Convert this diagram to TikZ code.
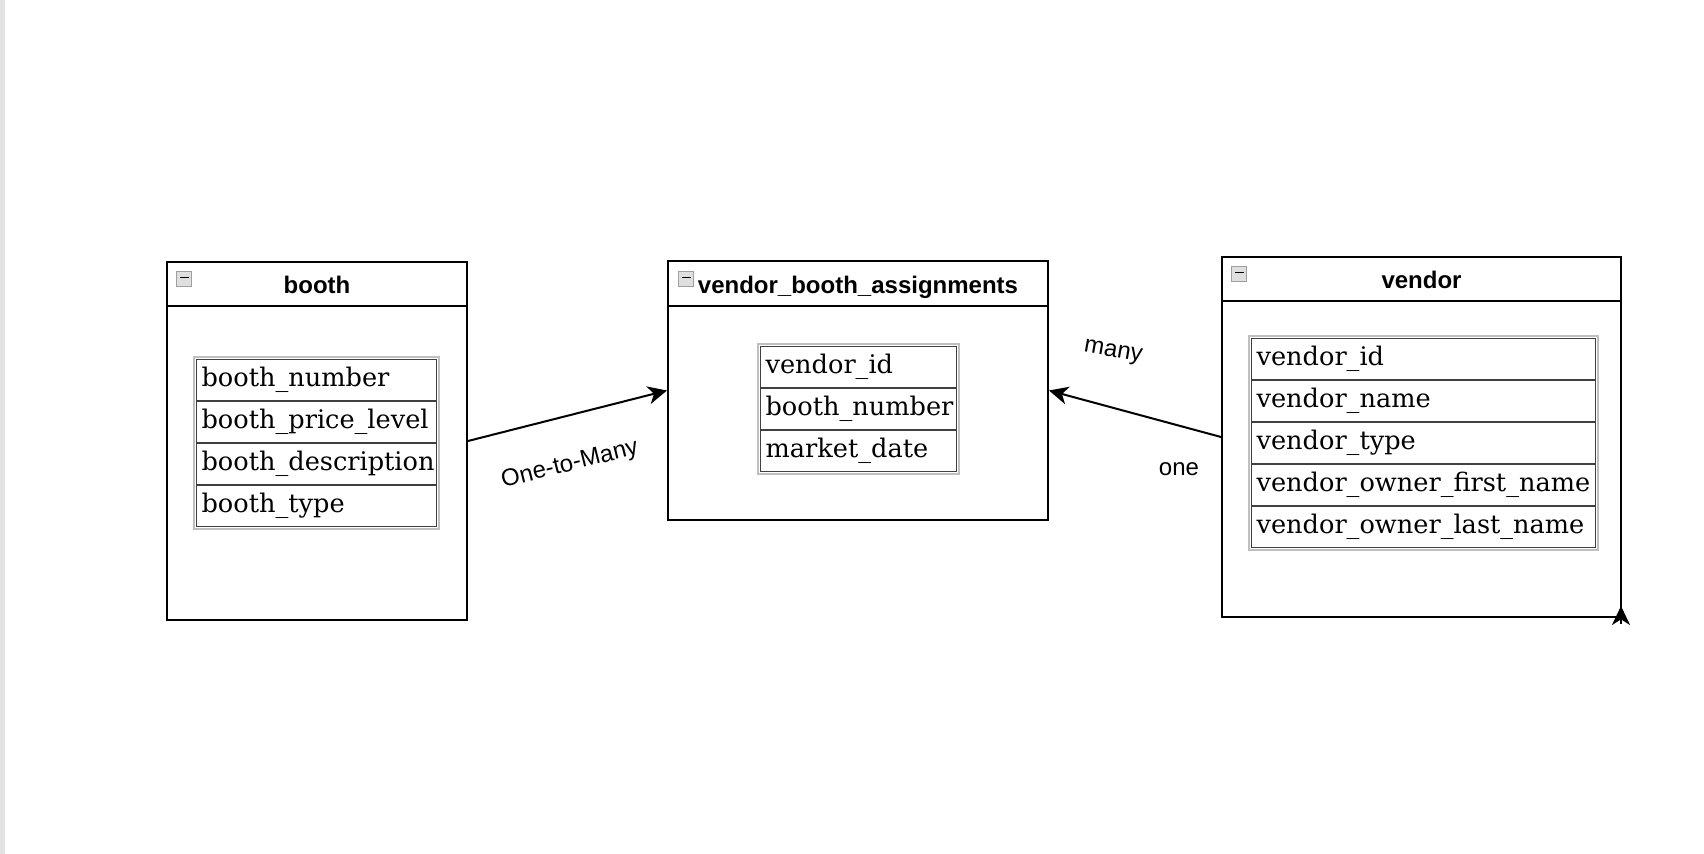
\documentclass[tikz,border=0pt]{standalone}
\usepackage{fontspec}
\setmainfont{Liberation Sans}
\newfontfamily\fieldfont{DejaVu Serif}
\usetikzlibrary{positioning, arrows.meta}
\tikzset{
    entity/.style={rectangle, draw=black, line width=1pt, fill=white},
    entitytitle/.style={font=\bfseries\fontsize{12}{14}\selectfont, inner sep=0pt, anchor=base},
    icon/.style={rectangle, draw=gray!75, fill=gray!25, line width=0.5pt, minimum size=7.5pt, inner sep=0pt,
        path picture={\draw[black, line width=0.7pt] ([xshift=1.5pt, yshift=0.6pt]path picture bounding box.west) -- ([xshift=-1.5pt, yshift=0.6pt]path picture bounding box.east);}},
    field/.style={rectangle, draw=black!75, line width=0.6pt, minimum height=20.4pt, inner xsep=2.5pt, inner ysep=0pt, align=left, font=\fieldfont\fontsize{12.8}{14}\selectfont},
    boothfield/.style={field, text width=115pt},
    vbafield/.style={field, text width=93pt},
    vendorfield/.style={field, text width=167pt},
    tableframe/.style={draw=black!25, line width=1pt},
    rel/.style={font=\fontsize{12}{14}\selectfont, inner sep=1pt},
}
\begin{document}
\begin{tikzpicture}[x=0.5pt, y=-0.5pt, line width=1pt, >={Stealth[length=9.5pt, width=9pt, inset=2.8pt]}]
    \useasboundingbox (0,0) rectangle (1704,854);
    \fill[gray!22] (0,0) rectangle (5,854);

    % entity boxes
    \node[entity, minimum width=150pt, minimum height=179pt] (booth) at (317,441) {};
    \node[entity, minimum width=190pt, minimum height=129.5pt] (vba) at (858,390.5) {};
    \node[entity, minimum width=199.5pt, minimum height=180pt] (vendor) at (1421.5,437) {};

    \draw ([yshift=-22.5pt]booth.north west) -- ([yshift=-22.5pt]booth.north east);
    \draw ([yshift=-23pt]vba.north west) -- ([yshift=-23pt]vba.north east);
    \draw ([yshift=-22.5pt]vendor.north west) -- ([yshift=-22.5pt]vendor.north east);

    \node[entitytitle] (boothtitle) at ([yshift=-16.3pt]booth.north) {booth};
    \node[entitytitle] (vbatitle) at ([yshift=-16.6pt]vba.north) {vendor\_booth\_assignments};
    \node[entitytitle] (vendortitle) at ([yshift=-16.3pt]vendor.north) {vendor};

    \node[icon, anchor=north west] (boothicon) at ([shift={(5pt,-5pt)}]booth.north west) {};
    \node[icon, anchor=north west] (vbaicon) at ([shift={(5.5pt,-5.5pt)}]vba.north west) {};
    \node[icon, anchor=north west] (vendoricon) at ([shift={(5pt,-5pt)}]vendor.north west) {};

    % booth fields
    \node[boothfield, anchor=north west] (bnumber) at (196,359) {booth\_number};
    \node[boothfield, below=0pt of bnumber] (bprice) {booth\_price\_level};
    \node[boothfield, below=0pt of bprice] (bdesc) {booth\_description};
    \node[boothfield, below=0pt of bdesc] (btype) {booth\_type};
    \draw[tableframe] ([shift={(-1pt,1pt)}]bnumber.north west) rectangle ([shift={(1pt,-1pt)}]btype.south east);

    % vendor_booth_assignments fields
    \node[vbafield, anchor=north west] (avendor) at (760,346) {vendor\_id};
    \node[vbafield, below=0pt of avendor] (abooth) {booth\_number};
    \node[vbafield, below=0pt of abooth] (adate) {market\_date};
    \draw[tableframe] ([shift={(-1pt,1pt)}]avendor.north west) rectangle ([shift={(1pt,-1pt)}]adate.south east);

    % vendor fields
    \node[vendorfield, anchor=north west] (vid) at (1251,338) {vendor\_id};
    \node[vendorfield, below=0pt of vid] (vname) {vendor\_name};
    \node[vendorfield, below=0pt of vname] (vtype) {vendor\_type};
    \node[vendorfield, below=0pt of vtype] (vfirst) {vendor\_owner\_first\_name};
    \node[vendorfield, below=0pt of vfirst] (vlast) {vendor\_owner\_last\_name};
    \draw[tableframe] ([shift={(-1pt,1pt)}]vid.north west) rectangle ([shift={(1pt,-1pt)}]vlast.south east);

    % relations
    \draw[->] (booth.east) -- (vba.west);
    \draw[->] (vendor.west) -- (vba.east);
    \node[rel, rotate=14] (onetomany) at (570,465) {One-to-Many};
    \node[rel, rotate=-10] (many) at (1113,353) {many};
    \node[rel] (one) at (1179,469) {one};

    \coordinate (cornerbase) at (1621,624);
    \coordinate (cornertip) at (1621,606);
    \draw[->] (cornerbase) -- (cornertip);
\end{tikzpicture}
\end{document}
